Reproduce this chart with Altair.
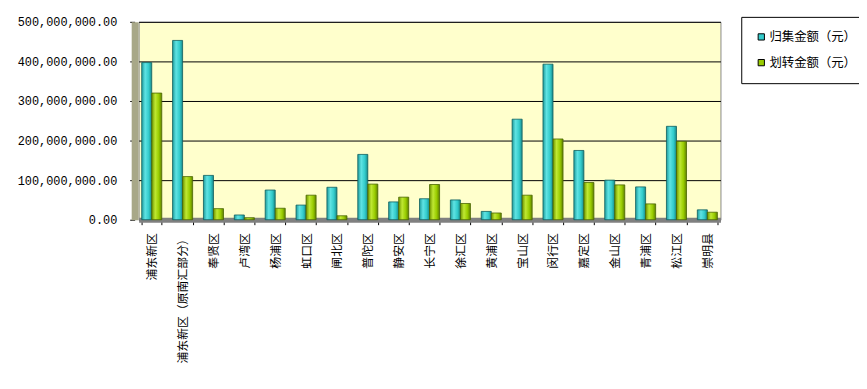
import altair as alt
import pandas as pd

districts = ["浦东新区", "浦东新区（原南汇部分）", "奉贤区", "卢湾区", "杨浦区", "虹口区",
             "闸北区", "普陀区", "静安区", "长宁区", "徐汇区", "黄浦区", "宝山区", "闵行区",
             "嘉定区", "金山区", "青浦区", "松江区", "崇明县"]
collected = [397e6, 453e6, 112e6, 12e6, 75e6, 37e6, 82e6, 165e6, 45e6, 53e6,
             50e6, 21e6, 254e6, 393e6, 175e6, 100e6, 83e6, 236e6, 25e6]
transferred = [320e6, 109e6, 28e6, 5e6, 29e6, 62e6, 10e6, 90e6, 57e6, 89e6,
               41e6, 17e6, 62e6, 204e6, 94e6, 88e6, 40e6, 198e6, 19e6]
series = ["归集金额（元）", "划转金额（元）"]
colors = ["#33CCCC", "#99CC00"]

rows = []
for d, a, b in zip(districts, collected, transferred):
    rows.append({"district": d, "series": series[0], "value": a})
    rows.append({"district": d, "series": series[1], "value": b})
df = pd.DataFrame(rows)

grad_cyan = {"gradient": "linear", "x1": 0, "x2": 1, "y1": 0, "y2": 0,
             "stops": [{"offset": 0, "color": "#1E9C9C"}, {"offset": 0.35, "color": "#5FE3E3"},
                       {"offset": 0.7, "color": "#33CCCC"}, {"offset": 1, "color": "#1A8A8A"}]}
grad_green = {"gradient": "linear", "x1": 0, "x2": 1, "y1": 0, "y2": 0,
              "stops": [{"offset": 0, "color": "#6E9400"}, {"offset": 0.35, "color": "#BFE833"},
                        {"offset": 0.7, "color": "#99CC00"}, {"offset": 1, "color": "#5F8000"}]}

x_enc = alt.X("district:N", sort=districts, title=None,
              scale=alt.Scale(paddingInner=0.35, paddingOuter=0.1),
              axis=alt.Axis(labelAngle=270, labelFont="Noto Sans CJK SC", labelFontSize=12,
                            labelColor="#000000", labelPadding=8, tickBand="extent",
                            tickColor="#000000", tickSize=5, domainColor="#808080",
                            domainWidth=5, labelLimit=200))
y_enc = alt.Y("value:Q", title=None,
              scale=alt.Scale(domain=[0, 500e6], nice=False),
              axis=alt.Axis(values=[0, 1e8, 2e8, 3e8, 4e8, 5e8], format=",.2f",
                            labelFont="Liberation Mono", labelFontSize=12, labelColor="#000000",
                            gridColor="#000000", gridWidth=1, domainColor="#A8A888",
                            domainWidth=7, offset=4, tickColor="#000000", tickSize=5,
                            labelPadding=13))
xo_enc = alt.XOffset("series:N", sort=series, scale=alt.Scale(domain=series))
color_enc = alt.Color("series:N", sort=series,
                      scale=alt.Scale(domain=series, range=colors),
                      legend=alt.Legend(title=None, orient="none", legendX=609, legendY=-5,
                                        direction="vertical", symbolType="square",
                                        symbolSize=40, symbolStrokeColor="#000000",
                                        symbolStrokeWidth=1, symbolOpacity=1,
                                        labelFont="Noto Sans CJK SC",
                                        labelFontSize=12.5, labelColor="#000000",
                                        strokeColor="#000000", padding=14, rowPadding=13,
                                        labelOffset=2, fillColor="#FFFFFF"))

base = alt.Chart(df)
bar1 = base.transform_filter(alt.datum.series == series[0]).mark_bar(
    stroke="#0E5E5E", strokeWidth=0.8).encode(
    x=x_enc, y=y_enc, xOffset=xo_enc, fill=alt.value(grad_cyan))
bar2 = base.transform_filter(alt.datum.series == series[1]).mark_bar(
    stroke="#4A6600", strokeWidth=0.8).encode(
    x=x_enc, y=y_enc, xOffset=xo_enc, fill=alt.value(grad_green))
legend_layer = base.mark_bar(opacity=0, strokeWidth=0).encode(
    x=x_enc, y=y_enc, xOffset=xo_enc, color=color_enc)

chart = alt.layer(legend_layer, bar1, bar2).properties(
    width=588, height=200,
    autosize=alt.AutoSizeParams(type="none"),
    padding={"left": 132, "top": 12, "right": 140, "bottom": 160},
    background="#FFFFFF",
).configure_view(fill="#FFFFCC", stroke="#888888", strokeWidth=1)

chart.save("out.html", embed_options={"renderer": "svg", "actions": False})
